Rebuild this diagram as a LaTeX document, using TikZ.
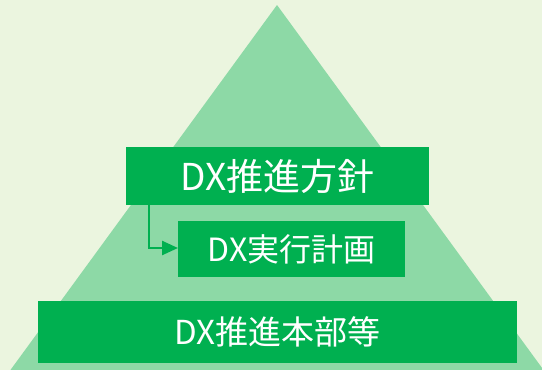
\documentclass[tikz,border=0pt]{standalone}
\usepackage{fontspec}
\newfontfamily\cjk{Noto Sans CJK JP}
\usetikzlibrary{arrows.meta}
\definecolor{bg}{HTML}{EBF5DF}
\definecolor{lightg}{HTML}{8DD9A6}
\definecolor{darkg}{HTML}{00B050}
\tikzset{
  box/.style={fill=darkg, draw=none, text=white, inner sep=0pt, anchor=north west},
  conn/.style={draw=darkg, line width=2.5pt, -{Triangle[length=16pt,width=14pt]}}
}
\begin{document}
\begin{tikzpicture}[x=1pt,y=-1pt]
\useasboundingbox (0,0) rectangle (542,370);
\fill[bg] (0,0) rectangle (542,370);
\fill[lightg] (277,5) -- (545,372) -- (9,372) -- cycle;
\node[box, minimum width=303pt, minimum height=58pt] (b1) at (126,147) {\cjk\fontsize{37pt}{40pt}\selectfont DX推進方針};
\node[box, minimum width=227pt, minimum height=56pt] (b2) at (178,221) {\cjk\fontsize{32pt}{36pt}\selectfont DX実行計画};
\node[box, minimum width=479pt, minimum height=62pt] (b3) at (38,301) {\cjk\fontsize{33pt}{36pt}\selectfont DX推進本部等};
\coordinate (c1) at (149,205);
\draw[conn] (c1) |- (b2.west |- 0,248);
\end{tikzpicture}
\end{document}
